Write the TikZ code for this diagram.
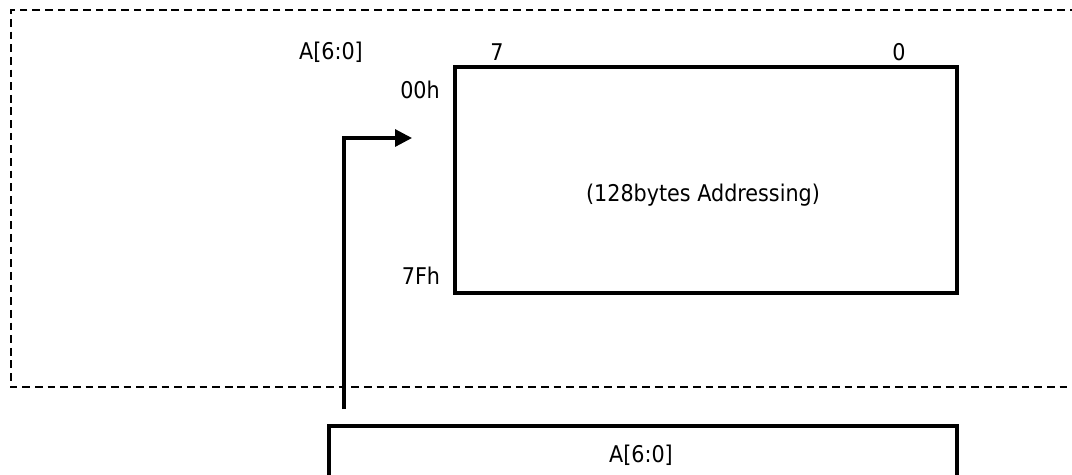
\documentclass[tikz,border=0pt]{standalone}
\usepackage{fontspec}
\setmainfont{DejaVu Sans Condensed}
\usetikzlibrary{arrows.meta,positioning}

\begin{document}
\begin{tikzpicture}[
  x=0.02cm,y=-0.02cm,
  box/.style={rectangle,draw=black,line width=1.8pt,inner sep=0pt},
  region/.style={draw=black,line width=1.2pt,dash pattern=on 4.4pt off 2.8pt},
  txt/.style={font=\fontsize{13.1}{15}\selectfont,inner sep=0pt},
  arr/.style={-{Triangle[length=0.34cm,width=0.34cm]},line width=1.8pt}
]
\clip (0,0) rectangle (1072,474);

% Dashed region (open on the right)
\draw[region] (1090,10) -- (11,10) -- (11,387) -- (1090,387);

% Memory array
\node[box,minimum width=10.04cm,minimum height=4.52cm] (mem) at (706,180) {};
\node[txt] (memtxt) at (703,195) {(128bytes Addressing)};
\node[txt] (abits) at (331,52) {A[6:0]};
\node[txt] (msb)   at (497,52) {7};
\node[txt] (lsb)   at (899,52) {0};
\node[txt] (top)   at (420,90) {00h};
\node[txt] (bot)   at (421,276) {7Fh};

% Address register
\node[box,minimum width=12.56cm,minimum height=2cm] (reg) at (643,476) {};
\node[txt] (regtxt) at (641,455) {A[6:0]};

% Address path
\coordinate (src) at (344,409);
\coordinate (dst) at (412,138);
\draw[arr] (src) |- (dst);

\end{tikzpicture}
\end{document}
